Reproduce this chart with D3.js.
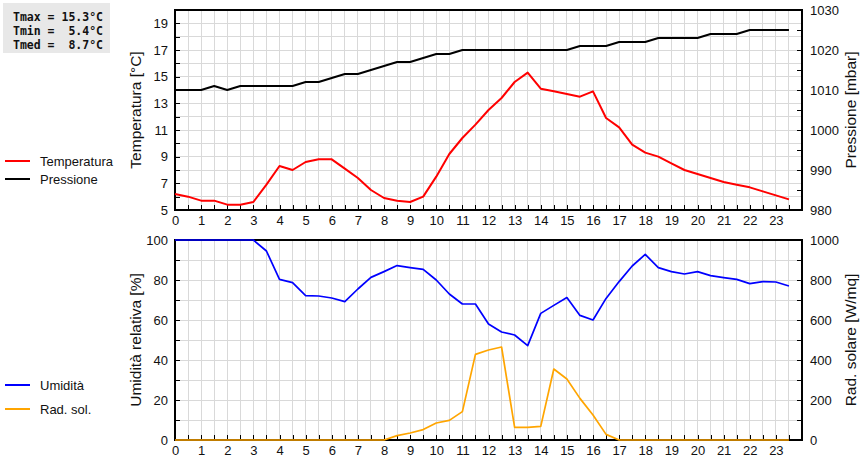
<!DOCTYPE html>
<html><head><meta charset="utf-8">
<script src="https://cdn.jsdelivr.net/npm/d3@7/dist/d3.min.js"></script>
<style>
body{margin:0;background:#fff;}
svg{display:block;font-family:"Liberation Sans",Arial,sans-serif;}
</style></head>
<body><svg id="c" width="860" height="460"></svg>
<script>
const hours = d3.range(0, 24, 0.5);
const temperature = [6.2,6.0,5.7,5.7,5.4,5.4,5.6,6.9,8.3,8.0,8.6,8.8,8.8,8.1,7.4,6.5,5.9,5.7,5.6,6.0,7.5,9.2,10.4,11.4,12.5,13.4,14.6,15.3,14.1,13.9,13.7,13.5,13.9,11.9,11.2,9.9,9.3,9.0,8.5,8.0,7.7,7.4,7.1,6.9,6.7,6.4,6.1,5.8];
const pressure = [1010,1010,1010,1011,1010,1011,1011,1011,1011,1011,1012,1012,1013,1014,1014,1015,1016,1017,1017,1018,1019,1019,1020,1020,1020,1020,1020,1020,1020,1020,1020,1021,1021,1021,1022,1022,1022,1023,1023,1023,1023,1024,1024,1024,1025,1025,1025,1025];
const humidity = [100,100,100,100,100,100,100,94.5,80.3,78.7,72.2,72,71,69.2,75.5,81.3,84.2,87.2,86.2,85.3,80,73,68,68,58,54,52.5,47.2,63.3,67.3,71.2,62.3,60,70.8,79.2,87,92.8,86.2,84.2,83,84.2,82.2,81.2,80.3,78.2,79.2,79,77];
const radiation = [0,0,0,0,0,0,0,0,0,0,0,0,0,0,0,0,0,22,35,52,85,98,142,428,450,465,63,63,68,355,305,208,125,28,0,0,0,0,0,0,0,0,0,0,0,0,0,0];
const xTicks = d3.range(0, 24);
const tempTicks = [5,7,9,11,13,15,17,19];
const presTicks = [980,990,1000,1010,1020,1030];
const humTicks = [0,20,40,60,80,100];
const radTicks = [0,200,400,600,800,1000];
const statsLines = ["Tmax = 15.3°C","Tmin =  5.4°C","Tmed =  8.7°C"];

const svg = d3.select("#c");
const L = 175, R = 802;
const x = d3.scaleLinear().domain([0,24]).range([L,R]);

function panel(top, bottom, yl, yr, lTicks, lMinorStep, rTicks, rMinorStep, gridStep, series, lTitle, rTitle){
  const g = svg.append("g");
  const yL = d3.scaleLinear().domain(yl).range([bottom, top]);
  const yR = d3.scaleLinear().domain(yr).range([bottom, top]);
  const vg = d3.range(0.5, 24, 0.5);
  g.selectAll(null).data(vg).enter().append("line")
    .attr("x1", d=>x(d)).attr("x2", d=>x(d)).attr("y1", top).attr("y2", bottom)
    .attr("stroke", "#d9d9d9").attr("stroke-width", 1).attr("shape-rendering","crispEdges");
  const hg = d3.range(yl[0]+gridStep, yl[1], gridStep);
  g.selectAll(null).data(hg).enter().append("line")
    .attr("x1", L).attr("x2", R).attr("y1", d=>yL(d)).attr("y2", d=>yL(d))
    .attr("stroke", "#d9d9d9").attr("stroke-width", 1).attr("shape-rendering","crispEdges");
  const xa = g.append("g").attr("transform", `translate(0,${bottom})`)
    .call(d3.axisBottom(x).tickValues(d3.range(0,24,0.5)).tickSize(-5).tickPadding(6)
      .tickFormat(d => xTicks.includes(d) ? d : ""));
  const lMinor = d3.range(yl[0], yl[1]+1e-9, lMinorStep);
  const la = g.append("g").attr("transform", `translate(${L},0)`)
    .call(d3.axisLeft(yL).tickValues(lMinor).tickSize(-5).tickPadding(7)
      .tickFormat(d => lTicks.includes(d) ? d : ""));
  const rMinor = d3.range(yr[0], yr[1]+1e-9, rMinorStep);
  const ra = g.append("g").attr("transform", `translate(${R},0)`)
    .call(d3.axisRight(yR).tickValues(rMinor).tickSize(-5).tickPadding(8)
      .tickFormat(d => rTicks.includes(d) ? d : ""));
  [xa,la,ra].forEach(a=>{
    a.select(".domain").remove();
    a.selectAll("text").attr("font-size", 13).attr("font-family", "Liberation Sans, Arial, sans-serif").attr("fill","#111");
    a.selectAll(".tick line").attr("stroke","#000").attr("shape-rendering","crispEdges");
  });
  g.append("rect").attr("x", L).attr("y", top).attr("width", R-L).attr("height", bottom-top)
    .attr("fill","none").attr("stroke","#000").attr("stroke-width",1.2).attr("shape-rendering","crispEdges");
  series.forEach(s=>{
    const sc = s.axis === "l" ? yL : yR;
    g.append("path").datum(s.data)
      .attr("d", d3.line().x((d,i)=>x(hours[i])).y(d=>sc(d)))
      .attr("fill","none").attr("stroke", s.color).attr("stroke-width", s.w).attr("stroke-linejoin","round");
  });
  const cy = (top+bottom)/2;
  g.append("text").attr("transform", `translate(141,${cy}) rotate(-90)`).attr("text-anchor","middle")
    .attr("font-size", 15.5).attr("fill","#111").text(lTitle);
  g.append("text").attr("transform", `translate(856,${cy}) rotate(-90)`).attr("text-anchor","middle")
    .attr("font-size", 15.5).attr("fill","#111").text(rTitle);
}

panel(10, 210, [5,20], [980,1030], tempTicks, 1, presTicks, 5, 1,
  [{data: pressure, axis:"r", color:"#000", w:2}, {data: temperature, axis:"l", color:"#ff0000", w:2}],
  "Temperatura [°C]", "Pressione [mbar]");
panel(240, 440, [0,100], [0,1000], humTicks, 10, radTicks, 100, 10,
  [{data: humidity, axis:"l", color:"#0000ff", w:1.7}, {data: radiation, axis:"r", color:"#ffa500", w:1.7}],
  "Umidità relativa [%]", "Rad. solare [W/mq]");

const legends = [
  {label:"Temperatura", color:"#ff0000", y:161},
  {label:"Pressione", color:"#000", y:179},
  {label:"Umidità", color:"#0000ff", y:385},
  {label:"Rad. sol.", color:"#ffa500", y:409}
];
const lg = svg.append("g");
legends.forEach(d=>{
  lg.append("line").attr("x1",5).attr("x2",30).attr("y1",d.y).attr("y2",d.y).attr("stroke",d.color).attr("stroke-width",2);
  lg.append("text").attr("x",40).attr("y",d.y+5).attr("font-size",13).attr("fill","#111").text(d.label);
});

svg.append("rect").attr("x",3).attr("y",3).attr("width",107).attr("height",50).attr("fill","#e8e8e8");
statsLines.forEach((t,i)=>{
  svg.append("text").attr("x",13).attr("y",21+i*14).attr("font-family","DejaVu Sans Mono, monospace")
    .attr("font-weight","bold").attr("font-size",11.5).attr("fill","#111")
    .style("white-space","pre").text(t);
});
</script></body></html>
